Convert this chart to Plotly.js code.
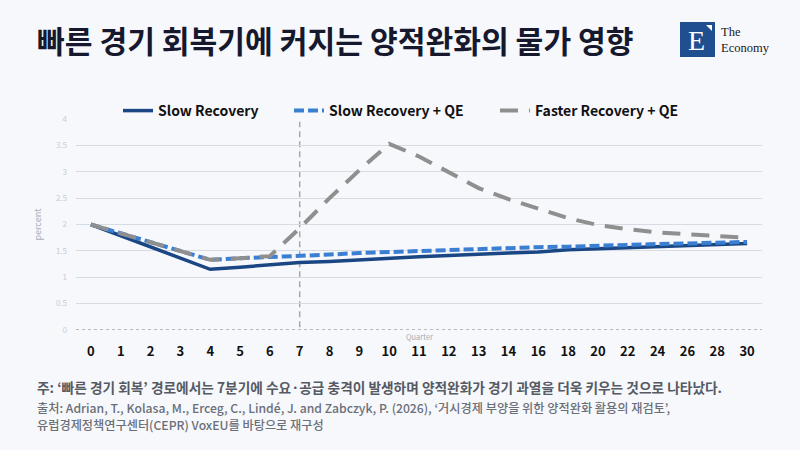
<!DOCTYPE html>
<html><head><meta charset="utf-8">
<script src="https://cdn.plot.ly/plotly-3.0.1.min.js"></script>
<style>
html,body{margin:0;padding:0;background:#f7f8fc;}
#chart{width:800px;height:450px;}
</style></head>
<body><div id="chart"></div>
<script>
const quarters = ['0','1','2','3','4','5','6','7','8','9','10','11','12','13','14','16','18','20','22','24','26','28','30'];
const slowRecovery   = [2.00,1.79,1.57,1.36,1.15,1.19,1.23,1.28,1.30,1.33,1.37,1.39,1.41,1.44,1.46,1.48,1.52,1.54,1.56,1.58,1.60,1.62,1.64];
const slowRecoveryQE = [2.00,1.83,1.66,1.49,1.33,1.36,1.38,1.41,1.43,1.46,1.48,1.50,1.52,1.54,1.55,1.57,1.58,1.60,1.62,1.63,1.64,1.66,1.67];
const fasterRecoveryQE=[2.00,1.83,1.66,1.49,1.33,1.36,1.40,1.93,2.50,3.03,3.53,3.29,3.00,2.69,2.48,2.29,2.12,1.99,1.91,1.85,1.81,1.78,1.75];
const seriesNames = ['Slow Recovery','Slow Recovery + QE','Faster Recovery + QE'];
const shockQuarter = '7';
const yTicks = [0,0.5,1,1.5,2,2.5,3,3.5,4];
const yTickText = ['0','0.5','1','1.5','2','2.5','3','3.5','4'];

const KR = '"Noto Sans CJK KR", "Noto Sans", sans-serif';
const PL = 76, PW = 686, PB = 330, PH = 211;
const px = v => (v - PL) / PW;
const py = v => (PB - v) / PH;

const traces = [
  {x: quarters, y: slowRecovery, name: seriesNames[0], mode:'lines', legend:'legend',
   line:{color:'#1a4783', width:3.5}},
  {x: quarters, y: slowRecoveryQE, name: seriesNames[1], mode:'lines', legend:'legend2',
   line:{color:'#3b7fd3', width:4, dash:'10px,4px'}},
  {x: quarters, y: fasterRecoveryQE, name: seriesNames[2], mode:'lines', legend:'legend3',
   line:{color:'#8f8f8f', width:4, dash:'18px,11px'}}
];

const legFont = {family:KR, size:14, color:'#111', weight:700};
function leg(xLeft){
  return {orientation:'h', x:px(xLeft), xanchor:'left', y:py(111), yanchor:'middle',
    font:legFont, bgcolor:'rgba(0,0,0,0)', itemwidth:30};
}

const layout = {
  width:800, height:450,
  paper_bgcolor:'#f7f8fc', plot_bgcolor:'#f7f8fc',
  margin:{l:PL, r:800-PL-PW, t:119, b:120},
  showlegend:true,
  legend: leg(118),
  legend2: leg(289),
  legend3: leg(495),
  xaxis:{type:'category', categoryorder:'array', categoryarray:quarters,
    range:[-0.5, quarters.length-0.5],
    showgrid:false, zeroline:false, showline:false, ticks:'',
    tickfont:{family:KR, size:13, color:'#111', weight:700},
    ticklabelstandoff:12, fixedrange:true},
  yaxis:{range:[0,4], tickvals:yTicks, ticktext:yTickText, showgrid:true,
    gridcolor:'#d8dbe2', gridwidth:1, zeroline:false, showline:false,
    tickfont:{family:KR, size:8, color:'#c9ccd3'}, ticklabelstandoff:8,
    title:{text:'percent', font:{family:KR, size:9, color:'#a9adb6'}, standoff:12}},
  shapes:[
    {type:'line', xref:'x', yref:'y', x0:shockQuarter, x1:shockQuarter, y0:0.05, y1:3.95,
     line:{color:'#a8a8a8', width:1.5, dash:'6px,4px'}, layer:'below'},
    {type:'line', xref:'paper', yref:'y', x0:0, x1:1, y0:0, y1:0,
     line:{color:'#7a7a7a', width:1, dash:'3px,3px'}, layer:'above'},
    {type:'rect', xref:'paper', yref:'paper', x0:px(680), x1:px(715),
     y0:py(57), y1:py(22), fillcolor:'#1f4f8e', line:{width:0}, layer:'above'},
    {type:'path', xref:'paper', yref:'paper',
     path:`M ${px(706)} ${py(25)} L ${px(712)} ${py(25)} L ${px(712)} ${py(31)} Z`,
     fillcolor:'#ffffff', line:{width:0}, layer:'above'}
  ],
  annotations:[
    {xref:'paper', yref:'paper', x:px(35), y:py(40), xanchor:'left', yanchor:'middle',
     text:'빠른 경기 회복기에 커지는 양적완화의 물가 영향', showarrow:false,
     font:{family:KR, size:30.2, color:'#16182e', weight:700}},
    {xref:'paper', yref:'paper', x:px(696), y:py(40), xanchor:'center', yanchor:'middle',
     text:'E', showarrow:false, font:{family:'"Liberation Serif", serif', size:28, color:'#ffffff'}},
    {xref:'paper', yref:'paper', x:px(719), y:py(40), xanchor:'left', yanchor:'middle', align:'left',
     text:'The<br>Economy', showarrow:false, font:{family:'"Liberation Serif", serif', size:12.5, color:'#1a1a1a'}},
    {xref:'paper', yref:'paper', x:px(419), y:py(336), xanchor:'center', yanchor:'middle',
     text:'Quarter', showarrow:false, font:{family:KR, size:7.5, color:'#a9adb6'}},
    {xref:'paper', yref:'paper', x:px(35), y:py(387), xanchor:'left', yanchor:'middle',
     text:'주: ‘빠른 경기 회복’ 경로에서는 7분기에 수요·공급 충격이 발생하며 양적완화가 경기 과열을 더욱 키우는 것으로 나타났다.',
     showarrow:false, font:{family:KR, size:13.7, color:'#555a63', weight:700}},
    {xref:'paper', yref:'paper', x:px(35), y:py(408), xanchor:'left', yanchor:'middle',
     text:'출처: Adrian, T., Kolasa, M., Erceg, C., Lindé, J. and Zabczyk, P. (2026), ‘거시경제 부양을 위한 양적완화 활용의 재검토’,',
     showarrow:false, font:{family:KR, size:12.2, color:'#6a6f78', weight:500}},
    {xref:'paper', yref:'paper', x:px(35), y:py(425), xanchor:'left', yanchor:'middle',
     text:'유럽경제정책연구센터(CEPR) VoxEU를 바탕으로 재구성',
     showarrow:false, font:{family:KR, size:12.2, color:'#6a6f78', weight:500}}
  ]
};

Plotly.newPlot('chart', traces, layout, {staticPlot:true, displayModeBar:false});
</script></body></html>
